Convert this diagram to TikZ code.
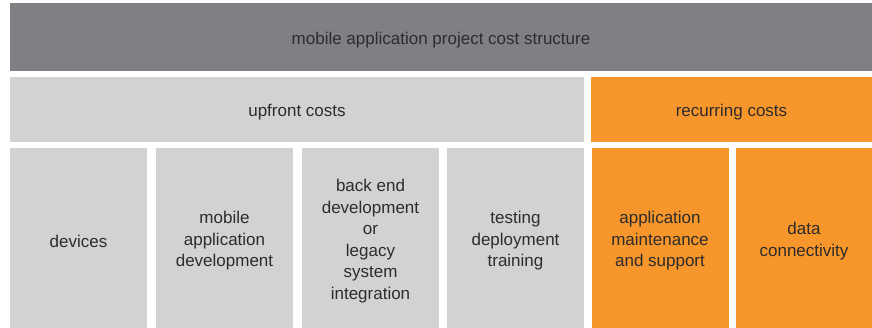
\documentclass[tikz,border=0pt]{standalone}
\usepackage{fontspec}
\setmainfont{Liberation Sans}
\definecolor{darkbar}{HTML}{808084}
\definecolor{lightcell}{HTML}{D1D2D4}
\definecolor{orangecell}{HTML}{F7962A}
\definecolor{celltext}{HTML}{2E2B2C}
\begin{document}
\begin{tikzpicture}[x=1pt,y=1pt,
  cell/.style={rectangle, draw=none, inner sep=0pt},
  every label/.style={text=celltext, align=center, inner sep=0pt, yshift=-3pt,
    font=\fontsize{17}{21.5}\selectfont},
  grey/.style={cell, fill=lightcell},
  orange/.style={cell, fill=orangecell},
  header/.style={cell, fill=darkbar},
  wide/.style={minimum width=#1, minimum height=65},
  tall/.style={minimum width=#1, minimum height=180}]
\useasboundingbox (0,0) rectangle (872,328);
\fill[white] (0,0) rectangle (872,328);

% title bar
\node[header, minimum width=862, minimum height=68,
  label={center:mobile application project cost structure}] (title) at (441,291) {};

% second row
\node[grey, wide=574, label={center:upfront costs}] (upfront) at (297,218.5) {};
\node[orange, wide=281, label={center:recurring costs}] (recurring) at (731.5,218.5) {};

% cost items
\node[grey, tall=137, label={center:devices}] (devices) at (78.5,90) {};
\node[grey, tall=137, label={center:{mobile\\application\\development}}] (mobiledev) at (224.5,90) {};
\node[grey, tall=137, label={center:{back end\\development\\or\\legacy\\system\\integration}}] (backend) at (370.5,90) {};
\node[grey, tall=137, label={center:{testing\\deployment\\training}}] (testing) at (515.5,90) {};
\node[orange, tall=137, label={center:{application\\maintenance\\and support}}] (maint) at (660,90) {};
\node[orange, tall=136, label={center:{data\\connectivity}}] (data) at (804,90) {};
\end{tikzpicture}
\end{document}
